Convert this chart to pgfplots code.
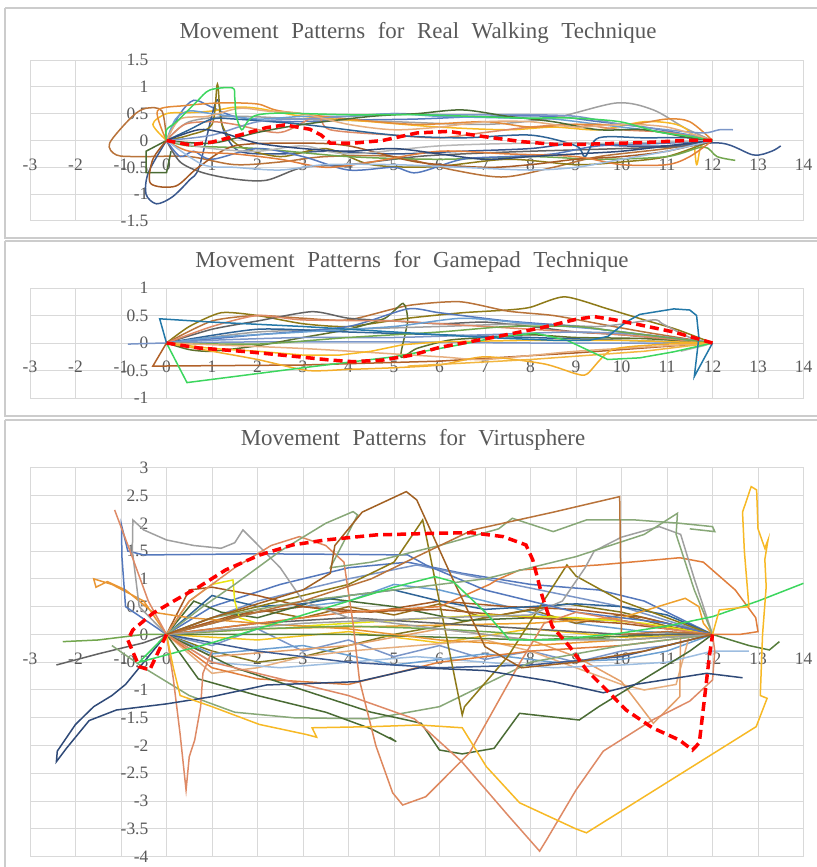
\documentclass[border=0pt]{standalone}
\usepackage{fontspec}
\setmainfont{Liberation Serif}
\newfontfamily\titlefont[WordSpace=2.2]{Liberation Serif}
\usepackage{pgfplots}
\pgfplotsset{compat=1.18}
\definecolor{labgray}{HTML}{595959}
\definecolor{cBlue}{HTML}{5478BC}
\definecolor{cOrange}{HTML}{E07E3C}
\definecolor{cGray}{HTML}{A0A0A0}
\definecolor{cGold}{HTML}{F7B925}
\definecolor{cLBlue}{HTML}{6A9FD2}
\definecolor{cGreen}{HTML}{72A64E}
\definecolor{cNavy}{HTML}{2F4A78}
\definecolor{cBrown}{HTML}{A65A24}
\definecolor{cDGray}{HTML}{636363}
\definecolor{cOlive}{HTML}{8E7A18}
\definecolor{cSteel}{HTML}{2F6496}
\definecolor{cDGreen}{HTML}{4A6B34}
\definecolor{cBlue2}{HTML}{7B96C8}
\definecolor{cSalmon}{HTML}{DE8A66}
\definecolor{cLGray}{HTML}{B7B7B7}
\definecolor{cLBlue2}{HTML}{9DBDE0}
\definecolor{cSage}{HTML}{88A878}
\definecolor{cBright}{HTML}{3CD65E}
\definecolor{cYellow}{HTML}{E8E410}
\definecolor{cTan}{HTML}{E6AE7E}
\definecolor{cRust}{HTML}{B8733A}
\definecolor{cTeal}{HTML}{2378A8}
\tikzset{ttl/.style={text=labgray, font=\titlefont\fontsize{23}{23}\selectfont}}
\pgfplotsset{
 panel/.style={
  scale only axis, width=773.5bp, xmin=-3, xmax=14,
  axis lines=middle, axis line style={draw=gray!30, line width=1bp, -},
  grid=major, grid style={draw=gray!30, line width=1bp},
  xtick={-3,-2,...,14},
  major tick length=0pt,
  hide obscured x ticks=false, hide obscured y ticks=false,
  tick label style={font=\fontsize{17.5}{17.5}\selectfont, text=labgray, inner sep=0pt},
  xticklabel style={anchor=center, yshift=-24bp},
  yticklabel style={anchor=east, xshift=-18bp},
  /pgf/number format/assume math mode=true,
  anchor=north west,
  every axis plot/.append style={line width=1.5bp, mark=none},
 },
 red/.style={color=red, line width=3.5bp, dash pattern=on 9bp off 5bp},
}
\begin{document}
\begin{tikzpicture}
\useasboundingbox (0,0) rectangle (817bp,-867bp);
% frames
\draw[gray!40, line width=1.8bp] (5bp,-8bp) -- (822bp,-8bp) (5bp,-8bp) -- (5bp,-238bp) -- (822bp,-238bp);
\draw[gray!40, line width=1.8bp] (5bp,-241bp) -- (822bp,-241bp) (5bp,-241bp) -- (5bp,-416bp) -- (822bp,-416bp);
\draw[gray!40, line width=1.8bp] (5bp,-420bp) -- (822bp,-420bp) (5bp,-420bp) -- (5bp,-880bp);
\node[ttl] at (418bp,-33bp) {Movement Patterns for Real Walking Technique};
\node[ttl] at (412bp,-262bp) {Movement Patterns for Gamepad Technique};
\node[ttl] at (413bp,-440bp) {Movement Patterns for Virtusphere};

%%%%%%%%%%%%%%%% PANEL 1
\begin{axis}[panel, at={(30bp,-60bp)}, height=161bp, ymin=-1.5, ymax=1.5, ytick={-1.5,-1,...,1.5},
  every axis plot/.append style={smooth, tension=0.5}]
\addplot[cBlue] coordinates {(0,0)(0.3,0.5)(0.6,0.75)(1.0,0.62)(1.5,0.45)(2.5,0.35)(4,0.38)(5.5,0.4)(7,0.45)(8.5,0.45)(9.5,0.35)(10.5,0.25)(11.5,0.1)(12,0)};
\addplot[cGray] coordinates {(0,0)(0.5,0.35)(1.5,0.45)(3,0.4)(5,0.35)(7,0.3)(8.5,0.42)(9.9,0.7)(10.7,0.57)(11.4,0.23)(12,0)};
\addplot[cGold] coordinates {(0,0)(-0.3,0.3)(0,0.5)(0.5,0.52)(1,0.55)(1.5,0.62)(2,0.6)(3,0.45)(4.5,0.35)(6,0.25)(7.5,0.2)(8.5,0.25)(9.5,0.2)(10.5,0.35)(11.2,0.3)(11.55,0.1)(11.65,-0.45)(11.75,-0.1)(12,0)};
\addplot[cRust] coordinates {(0,0)(-0.1,0.55)(-0.45,0.6)(-0.75,0.45)(-1.25,-0.05)(-1.1,-0.27)(-0.6,-0.3)(0.5,-0.3)(1.5,-0.45)(2.5,-0.4)(3.5,-0.3)(5,-0.3)(6.3,-0.55)(7.4,-0.68)(8.5,-0.5)(9.5,-0.3)(11,-0.15)(12,0)};
\addplot[cNavy!70!cBlue] coordinates {(0,0)(-0.4,-0.6)(-0.45,-1.0)(-0.22,-1.18)(0.13,-1.05)(0.5,-0.74)(0.72,-0.49)(1.1,0.75)(1.25,0.2)(1.6,-0.2)(2.5,-0.25)(3.5,-0.2)(5,-0.25)(6.5,-0.2)(8,-0.15)(9,-0.05)(10,-0.1)(11,-0.1)(12.2,-0.05)(12.9,-0.27)(13.3,-0.2)(13.5,-0.1)};
\addplot[cOlive] coordinates {(0,0)(0.5,0.1)(1.0,0.3)(1.12,1.05)(1.22,0.3)(1.6,-0.1)(2.5,-0.3)(3.5,-0.15)(4.5,-0.45)(5.85,-0.49)(7.5,-0.35)(9,-0.45)(10,-0.4)(11,-0.3)(12,0)};
\addplot[cDGray] coordinates {(0,0)(0.3,-0.4)(0.8,-0.6)(1.5,-0.72)(2.2,-0.74)(3,-0.5)(4,-0.45)(5.5,-0.3)(6.5,-0.25)(8,-0.2)(10,-0.15)(11.5,-0.1)(12,0)};
\addplot[cDGreen, sharp plot] coordinates {(0,0)(-0.45,-0.2)(-0.45,-0.6)(0,-0.6)(0.1,-0.2)};
\addplot[cGreen] coordinates {(0,0)(0.5,-0.1)(2,-0.15)(4,-0.3)(6,-0.35)(8,-0.3)(9.5,-0.35)(11,-0.3)(11.8,-0.12)(12.1,-0.3)(12.5,-0.37)};
\addplot[cLBlue] coordinates {(0,0)(0.2,0.4)(0.5,0.55)(1,0.5)(2,0.4)(3,0.45)(4,0.45)(5,0.5)(6,0.45)(7.5,0.42)(8.5,0.4)(9.5,0.3)(10.5,0.2)(11.5,0.1)(12,0)};
\addplot[cSalmon] coordinates {(0,0)(0.4,0.3)(1,0.35)(1.5,0.3)(2.5,0.15)(3.3,0.45)(3.6,0.2)(5,0.1)(6,0.05)(7,0.15)(8,0.25)(9,0.3)(10,0.2)(11,0.15)(12,0)};
\addplot[cBlue] coordinates {(0,0)(0.3,-0.3)(0.6,-0.2)(1,-0.35)(2,-0.15)(3,-0.3)(4,-0.55)(5,-0.5)(5.5,-0.6)(6.5,-0.35)(7.5,-0.3)(8.5,-0.25)(9.5,-0.1)(11,-0.05)(12,0)};
\addplot[cBrown] coordinates {(0,0)(-0.3,-0.35)(-0.35,-0.8)(0.2,-0.85)(0.7,-0.5)(1.5,-0.1)(3,-0.05)(4,-0.1)(5.5,-0.4)(7,-0.5)(8,-0.45)(9,-0.35)(10,-0.3)(11,-0.2)(12,0)};
\addplot[cOrange!80!cGold] coordinates {(0,0)(-0.2,0.55)(0.4,0.65)(1.2,0.7)(2,0.68)(2.5,0.55)(4,0.4)(5.5,0.3)(7,0.35)(8,0.25)(9,0.3)(10.2,0.3)(11,0.4)(11.5,0.35)(12,0)};
\addplot[cSteel] coordinates {(0,0)(0.5,0.2)(1,0.4)(1.5,0.4)(3,0.3)(5,0.1)(6.5,0.05)(8,0.1)(9,-0.1)(9.2,-0.3)(9.5,0.05)(10.5,0.05)(11.5,0.05)(12,0)};
\addplot[cBlue2] coordinates {(0,0)(1,0.1)(2,0.35)(3,0.4)(4,0.45)(5,0.5)(6,0.48)(7,0.48)(8,0.48)(9,0.45)(10,0.3)(11,0.2)(11.8,0.14)(12.15,0.2)(12.45,0.2)};
\addplot[cDGreen] coordinates {(0,0)(1,-0.05)(2,0.15)(3,0.3)(4.5,0.45)(5.5,0.5)(6.5,0.57)(7.5,0.45)(8.5,0.35)(9.5,0.2)(10.5,0.2)(11.5,0.05)(12,0)};
\addplot[cLGray] coordinates {(0,0)(1,-0.15)(2,-0.2)(3,-0.1)(4,-0.25)(6,-0.1)(8,-0.05)(10,-0.05)(12,0)};
\addplot[cOrange] coordinates {(0,0)(0.5,-0.2)(1.5,-0.25)(2.5,-0.35)(3.5,-0.5)(4.5,-0.4)(6,-0.2)(7.5,-0.25)(9,-0.3)(10,-0.45)(11,-0.45)(11.5,-0.3)(12,0)};
\addplot[cLBlue2] coordinates {(0,0)(0.8,-0.45)(1.5,-0.5)(2.5,-0.55)(3.5,-0.45)(5,-0.45)(6.5,-0.5)(8,-0.55)(9,-0.5)(10,-0.35)(11,-0.2)(12,0)};
\addplot[cTan] coordinates {(0,0)(0.3,0.4)(0.9,0.45)(1.6,0.6)(2.2,0.55)(3,0.5)(4,0.3)(5,0.2)(6,0.25)(7,0.35)(8,0.35)(9,0.25)(10,0.3)(11,0.25)(12,0)};
\addplot[cNavy] coordinates {(0,0)(0.7,0.2)(1.2,0.15)(2,-0.05)(3,-0.15)(4,-0.2)(5,-0.15)(6,-0.25)(7,-0.35)(8,-0.3)(9,-0.25)(10,-0.2)(11,-0.1)(12,0)};
\addplot[cBright] coordinates {(0,0)(0.0,0.2)(0.22,0.35)(0.66,0.72)(0.95,0.94)(1.45,0.98)(1.5,0.8)(1.53,0.47)(1.65,0.2)(1.78,0.35)(1.97,0.47)(2.5,0.51)(4,0.48)(5.56,0.48)(7.76,0.42)(8.86,0.42)(9.96,0.35)(10.8,0.16)(11.55,0.07)(12,0)};
\addplot[red, sharp plot] coordinates {(0,0)(0.5,-0.08)(1,-0.03)(1.6,0.1)(2.2,0.24)(2.6,0.29)(3.15,0.21)(3.4,0.1)(3.6,-0.05)(4.1,-0.05)(4.75,0)(5.5,0.14)(6.2,0.17)(7,0.07)(7.8,-0.02)(8.5,-0.07)(9.2,-0.07)(10,-0.05)(10.7,-0.03)(11.4,0)(12,0)};
\end{axis}

%%%%%%%%%%%%%%%% PANEL 2
\begin{axis}[panel, at={(30bp,-288bp)}, height=110bp, ymin=-1, ymax=1, ytick={-1,-0.5,...,1},
  every axis plot/.append style={smooth, tension=0.4}]
\addplot[cBlue2] coordinates {(-0.85,-0.02)(0,0)(2,0.02)(5,0.02)(8,0.0)(12,0)};
\addplot[cBrown!80!cOrange, sharp plot] coordinates {(0,0)(-0.3,-0.42)(3,-0.4)(6,-0.33)(9,-0.18)(12,0)};
\addplot[cOlive] coordinates {(0,0)(0.5,0.3)(1.2,0.55)(2,0.5)(3,0.35)(4,0.3)(5.3,0.45)(6.5,0.55)(7.5,0.6)(8,0.65)(8.75,0.84)(9.7,0.62)(10.5,0.42)(11.2,0.25)(12,0)};
\addplot[cRust] coordinates {(0,0)(1,0.4)(2,0.5)(3,0.45)(4,0.42)(5.3,0.68)(6.45,0.75)(7.5,0.58)(8.5,0.5)(9.5,0.35)(10.5,0.2)(12,0)};
\addplot[cDGray] coordinates {(0,0)(1,0.25)(2,0.4)(3.2,0.57)(4,0.45)(5,0.4)(6,0.35)(7,0.38)(8,0.3)(9,0.2)(10,0.15)(12,0)};
\addplot[cDGreen!70!cOlive] coordinates {(0,0)(0.5,-0.12)(1,-0.15)(2,-0.05)(3,0.1)(4,0.25)(4.8,0.45)(5.2,0.72)(5.3,0.4)(5.15,-0.25)(5.5,-0.1)(6.2,0.05)(7,0.1)(8,0.15)(9,0.1)(10.5,0.08)(12,0)};
\addplot[cGray] coordinates {(0,0)(2,0.2)(4,0.25)(6,0.3)(8,0.35)(9.5,0.3)(10.7,0.42)(10.9,0.35)(11.5,0.1)(12,0)};
\addplot[cBlue] coordinates {(0,0)(2,0.15)(4,0.3)(5.3,0.62)(6,0.55)(7.5,0.4)(9,0.3)(10.5,0.15)(12,0)};
\addplot[cSteel] coordinates {(0,0)(2,0.25)(4,0.2)(6,0.15)(8,0.1)(10,0.05)(12,0)};
\addplot[cSalmon] coordinates {(0,0)(1,0.3)(2,0.5)(3,0.42)(5,0.4)(6,0.35)(8,0.25)(10,0.15)(12,0)};
\addplot[cLBlue] coordinates {(0,0)(1,0.1)(3,0.2)(5,0.3)(6.5,0.45)(8,0.35)(9.5,0.25)(11,0.1)(12,0)};
\addplot[cBlue2] coordinates {(0,0)(1,0.05)(3,0.1)(5,0.1)(7,0.15)(9,0.2)(10.5,0.15)(12,0)};
\addplot[cGreen] coordinates {(0,0)(2,-0.02)(4,0.1)(6,0.2)(7.5,0.3)(9,0.3)(10,0.2)(11.5,0.05)(12,0)};
\addplot[cTan] coordinates {(0,0)(3,-0.1)(6,-0.25)(7,-0.3)(9,-0.15)(11,-0.05)(12,0)};
\addplot[cGold, sharp plot] coordinates {(0,0)(1,-0.1)(2,-0.15)(3,-0.22)(3.8,-0.22)(4.5,-0.15)(5.2,-0.03)(6,0.02)(8,0.05)(10,0.05)(12,0)};
\addplot[cGold!80!cOrange] coordinates {(0,0)(1,-0.15)(2,-0.3)(3.1,-0.5)(4,-0.48)(5,-0.45)(6,-0.4)(7,-0.25)(8.3,-0.38)(9.0,-0.56)(9.25,-0.56)(9.8,-0.12)(11,-0.02)(12,0)};
\addplot[cGold!70!cTan, sharp plot] coordinates {(5.3,-0.42)(8,-0.3)(10.5,-0.15)(12,0)};
\addplot[cLGray, sharp plot] coordinates {(11.3,-0.15)(11.8,-0.05)(12,0)};
\addplot[cBright, sharp plot] coordinates {(0,0)(0.45,-0.72)(3,-0.45)(5,-0.25)(6.2,-0.07)(7.3,0.11)(8.1,0.18)(8.8,0.05)(9.7,-0.3)(10.4,-0.27)(11.15,-0.16)(12,0)};
\addplot[cTeal, sharp plot] coordinates {(0,0)(-0.15,0.44)(1,0.38)(3,0.3)(5,0.2)(7,0.1)(8.5,0.05)(9.3,0.05)(9.7,0.12)(10.1,0.38)(10.4,0.52)(11.15,0.62)(11.5,0.6)(11.65,0.5)(11.7,0.1)(11.6,-0.61)(12,0)};
\addplot[red, sharp plot] coordinates {(0,0)(0.7,-0.09)(1.8,-0.16)(2.9,-0.25)(3.6,-0.31)(4.1,-0.34)(4.75,-0.31)(5.4,-0.22)(6.0,-0.08)(7.1,0.09)(8.2,0.27)(9.0,0.43)(9.4,0.48)(9.85,0.42)(10.4,0.33)(11.15,0.2)(12,0)};
\end{axis}

%%%%%%%%%%%%%%%% PANEL 3
\begin{axis}[panel, at={(30bp,-467.7bp)}, height=389bp, ymin=-4, ymax=3, ytick={-4,-3.5,...,3}]
\addplot[cBlue] coordinates {(0,0)(1,0.5)(2.5,0.9)(4,1.2)(5.3,1.3)(6.5,1.1)(8,0.9)(9.5,0.8)(10.5,0.6)(12,0)};
\addplot[cBlue2] coordinates {(0,0)(2,0.6)(4,1.0)(5.5,1.25)(7,1.0)(8.5,0.75)(10,0.5)(12,0)};
\addplot[cLBlue] coordinates {(0,0)(2,0.4)(4,0.6)(5,0.9)(6,0.8)(7.5,0.5)(9,0.2)(10.5,0.05)(12,0)};
\addplot[cOlive!80!cDGreen] coordinates {(0,0)(1,-0.3)(2,-0.5)(3,-0.4)(4,-0.2)(5,0.0)(7,0.3)(8.8,0.55)(10,0.4)(12,0)};
\addplot[cOlive!60!cBrown] coordinates {(0,0)(1,0.2)(2,0.45)(3,0.3)(4,0.5)(5,0.35)(6,0.55)(7,0.3)(8,0.45)(9,0.2)(10,0.35)(11,0.15)(12,0)};
\addplot[cBlue2] coordinates {(0,0)(1,-0.2)(2,0.1)(3,-0.3)(4,-0.1)(5,-0.4)(6,-0.2)(7,-0.45)(8,-0.3)(9,-0.5)(10,-0.3)(11,-0.2)(12,0)};
\addplot[cBrown] coordinates {(0,0)(1.5,0.35)(3,0.5)(4.5,0.4)(6,0.6)(7.5,0.5)(9,0.45)(10.5,0.3)(12,0)};
\addplot[cLBlue] coordinates {(0,0)(1,-0.35)(3,-0.2)(5,-0.55)(7,-0.35)(8.5,-0.5)(10,-0.45)(11,-0.3)(12,0)};
\addplot[cGold!70!cYellow] coordinates {(0,0)(2,-0.1)(4,0.05)(6,-0.15)(8,0.1)(10,-0.05)(12,0)};
\addplot[cDGreen] coordinates {(0,0)(0.6,0.6)(1.2,0.4)(2,0.3)(3.5,0.65)(5,0.5)(6.5,0.25)(8,0.3)(10,0.25)(12,0)};
\addplot[cTan] coordinates {(0,0)(1,-0.7)(2,-0.6)(3,-0.4)(4,-0.3)(5.5,-0.2)(7,-0.1)(8,-0.3)(9,-0.6)(10,-0.9)(10.5,-1.0)(11.2,-0.9)(11.5,0.0)(12,0)};
\addplot[cTan!70!cOrange] coordinates {(0,0)(1,-0.4)(2.5,-0.3)(4,-0.2)(6,0.1)(8,-0.1)(9,-0.4)(10,-0.85)(10.7,-1.6)(11.28,-1.12)(11.3,0)(12,0)};
\addplot[cLBlue2] coordinates {(0,0)(1,-0.5)(2.5,-0.6)(4,-0.5)(5.5,-0.4)(7,-0.5)(8.5,-0.6)(10,-0.55)(11,-0.5)(12,-0.3)(12.8,-0.3)};
\addplot[cSteel] coordinates {(0,0)(1,0.7)(2,0.5)(3,0.55)(4,0.7)(5,0.8)(6,0.6)(7,0.45)(8,0.5)(9,0.55)(10,0.5)(11,0.35)(12,0)};
\addplot[cBrown] coordinates {(0,0)(0.5,0.8)(1,0.85)(2,0.7)(3,0.5)(4,0.4)(6,0.45)(8,0.3)(10,0.2)(12,0)};
\addplot[cOrange] coordinates {(0,0)(1,-0.6)(2,-0.8)(3,-0.85)(4,-0.9)(5,-0.7)(6,-0.5)(8,-0.3)(10,-0.2)(12,0)};
\addplot[cNavy!60!cBlue] coordinates {(0,0)(2,-0.3)(4,-0.5)(6,-0.6)(8,-0.55)(10,-0.4)(12,0)};
\addplot[cDGreen!70!cGreen] coordinates {(0,0)(4,0)(8,-0.1)(11,0)(12,0)(12.8,-0.2)(13.25,-0.28)(13.47,-0.13)};
\addplot[cGold!60!cOrange] coordinates {(0,0)(2,0.1)(5,0.15)(8,0.2)(10,0.3)(11.2,0.6)(11.4,0.65)(11.7,0.5)(11.8,0.2)(12,0)};
\addplot[cYellow] coordinates {(0,0)(0.5,0.6)(1.0,0.9)(1.46,0.98)(1.5,0.6)(1.6,0.3)(2,0.2)(3,0.15)(5,0.25)(7,0.35)(9,0.3)(10.5,0.2)(12,0)};
\addplot[cOrange!60!cGold] coordinates {(0,0)(-0.5,0.6)(-1.2,0.9)(-1.6,1.0)(-1.55,0.85)(-1.3,0.95)(-0.9,0.8)(-0.3,0.4)(0.5,0.3)(2,0.2)(4,0.1)(6,-0.1)(8,-0.2)(10,-0.1)(12,0)};
\addplot[cGreen] coordinates {(-2.28,-0.13)(-1.5,-0.1)(-0.5,0.0)(0,0)(2,0.1)(4,0.15)(6,0.1)(8,0.0)(10,-0.1)(12,0)};
\addplot[cDGray] coordinates {(-2.42,-0.55)(-1.5,-0.35)(-0.5,-0.15)(0,0)(2,0.2)(4,0.3)(6,0.2)(8,0.1)(10,0.0)(12,0)};
\addplot[cSage] coordinates {(-1.2,-0.2)(-0.5,-0.6)(0.5,-1.1)(1.5,-1.4)(2.8,-1.5)(4.5,-1.52)(6,-1.3)(7,-0.9)(8,-0.5)(10,-0.2)(12,0)};
\addplot[cDGreen] coordinates {(0,0)(0.7,-0.8)(2,-1.1)(3.5,-1.4)(4.5,-1.7)(5.05,-1.93)(4.9,-1.85)};
\addplot[cDGreen] coordinates {(0,0)(1.5,-0.6)(3,-1.0)(4.5,-1.4)(5.34,-1.55)(5.6,-1.6)(6.0,-2.08)(6.5,-2.15)(7.2,-2.05)(7.76,-1.42)(9.07,-1.54)(9.5,-1.3)(10.5,-0.8)(11.5,-0.3)(12,0)};
\addplot[cOlive] coordinates {(0,0)(1,0.3)(2,0.5)(3,0.7)(4,0.9)(5,1.3)(5.63,2.06)(5.7,1.8)(6.5,-1.45)(6.55,-1.3)(7.5,-0.4)(8.8,1.25)(9.0,1.05)(10,0.6)(11,0.3)(12,0)};
\addplot[cOrange] coordinates {(0,0)(2,0.2)(4,0.4)(6,0.5)(7.1,0.9)(7.26,0.98)(7.76,1.16)(9.5,1.25)(11.28,1.38)(11.8,1.3)(12.5,0.8)(12.95,0.3)(13,0.05)(12.6,0)(12,0)};
\addplot[cGray] coordinates {(0,0)(3,0.2)(6,0.3)(8,0.35)(8.7,0.6)(9.2,1.2)(9.4,1.5)(10,1.75)(10.83,1.94)(11.3,1.8)(11.6,1.0)(12,0)};
\addplot[cBlue] coordinates {(0,0)(-0.9,0.5)(-0.98,1.4)(-0.99,1.97)(-0.85,1.5)(-0.5,1.43)(2,1.45)(4,1.44)(5.3,1.43)(5.7,1.25)(7,0.8)(9,0.4)(11,0.2)(12,0)};
\addplot[cGray] coordinates {(0,0)(-0.6,0.5)(-0.75,1.5)(-0.74,2.06)(-0.5,1.88)(0,1.7)(0.6,1.6)(1.2,1.55)(1.5,1.65)(1.68,1.88)(1.9,1.7)(2.5,1.2)(3,0.6)(4,0.3)(6,0.1)(8,-0.1)(10,-0.1)(12,0)};
\addplot[cSalmon] coordinates {(-1.14,2.24)(-0.8,1.5)(-0.4,0.6)(0,0)(0.15,-0.8)(0.3,-1.8)(0.43,-2.8)(0.5,-2.2)(0.62,-1.9)(0.75,-1.3)(0.8,-0.7)(1,-0.3)};
\addplot[cSalmon] coordinates {(0,0)(1,-0.5)(2.5,-0.8)(4,-1.1)(5.45,-1.52)(6.5,-2.3)(7.5,-3.25)(8.2,-3.9)(8.35,-3.7)(9,-2.8)(9.6,-2.1)(10.68,-1.54)(11.5,-1.2)(12,-0.82)(12.05,-0.3)(12,0)};
\addplot[cSalmon!80!cOrange] coordinates {(0,0)(0.5,0.6)(1.5,1.2)(2.3,1.6)(2.92,1.76)(3.5,1.6)(3.9,1.3)(4.1,0.2)(4.24,-0.82)(4.6,-2.0)(4.97,-2.85)(5.19,-3.07)(5.7,-2.92)(6.66,-2.13)(7.76,-0.52)(8.3,0.2)(9,0.4)(11,0.1)(12,0)};
\addplot[cNavy] coordinates {(0,0)(-0.5,-0.5)(-0.9,-0.9)(-1.2,-1.1)(-1.6,-1.3)(-2.0,-1.62)(-2.4,-2.1)(-2.42,-2.29)(-2.2,-2.05)(-1.7,-1.55)(-1.1,-1.36)(0,-1.25)(1,-1.12)(2.2,-0.91)(4.2,-0.85)(5.56,-0.6)(7,-0.65)(8.5,-0.85)(9.6,-1.05)(10.3,-0.9)(11.87,-0.7)(12.66,-0.78)};
\addplot[cSage] coordinates {(0,0)(0.8,0.5)(1.5,0.9)(2.5,1.5)(3.5,2.0)(4.1,2.21)(4.2,2.15)(3.6,1.2)(4.5,1.3)(6,1.6)(7.3,1.9)(7.6,2.09)(8.5,1.85)(9.23,2.06)(10.3,2.06)(11.28,2.0)(12.0,1.94)(12.05,1.85)(11.5,1.9)};
\addplot[cSage] coordinates {(0,0)(1,0.3)(3,0.6)(5,0.8)(7,1.0)(9,1.4)(10.5,1.8)(11.23,2.18)(11.2,1.8)(11.6,0.8)(12,0)};
\addplot[cRust] coordinates {(0,0)(1.5,0.3)(3,0.6)(4.5,1.0)(5.5,1.4)(6.73,1.88)(8.5,2.2)(9.96,2.48)(10.0,0.0)(11,0.05)(12,0)};
\addplot[cBrown!80!cOlive] coordinates {(0,0)(1,0.3)(2,0.55)(3,0.8)(3.6,1.1)(3.7,1.6)(4.3,2.2)(5.27,2.57)(5.5,2.42)(6.3,0.98)(7.0,-0.22)(7.8,-0.6)(9,-0.5)(10.5,-0.3)(12,0)};
\addplot[cBright] coordinates {(0,0)(-0.6,-0.5)(1,-0.15)(3,0.35)(5,0.85)(5.9,1.04)(6.3,0.95)(7.03,0.38)(7.54,-0.1)(8.5,-0.1)(9.96,0.02)(11,0.15)(12,0.32)(13,0.6)(14,0.92)};
\addplot[cGold] coordinates {(0,0)(0.15,-0.6)(0.3,-1.1)(1,-1.3)(2.04,-1.62)(3.07,-1.8)(3.3,-1.85)(3.2,-1.68)(4.5,-1.66)(5.56,-1.63)(6.5,-1.68)(7.03,-2.38)(7.76,-3.03)(9.0,-3.5)(9.23,-3.57)(12.96,-1.66)(13.2,-1.15)(13.05,-1.1)(13.1,0)(13.18,0.86)(13.15,1.35)(13.22,1.7)(13.15,1.55)(13.0,1.9)(12.97,2.6)(12.85,2.66)(12.66,2.2)(12.7,1.5)(12.8,0.5)(12.15,0.44)(12,0)};
\addplot[red] coordinates {(0,0)(-0.37,-0.64)(-0.6,-0.58)(-0.85,-0.1)(-0.74,0.08)(-0.3,0.38)(0.2,0.62)(0.72,0.86)(1.3,1.16)(2.05,1.43)(2.77,1.61)(3.5,1.7)(4.6,1.79)(5.9,1.82)(6.7,1.83)(7.4,1.76)(7.9,1.61)(8.05,1.34)(8.26,0.68)(8.48,0.14)(8.86,-0.22)(9.23,-0.64)(9.67,-1.0)(10.1,-1.36)(10.68,-1.68)(11.27,-1.9)(11.56,-2.08)(11.71,-1.95)(11.82,-1.18)(11.93,-0.4)(12,0)};
\end{axis}
\end{tikzpicture}
\end{document}
